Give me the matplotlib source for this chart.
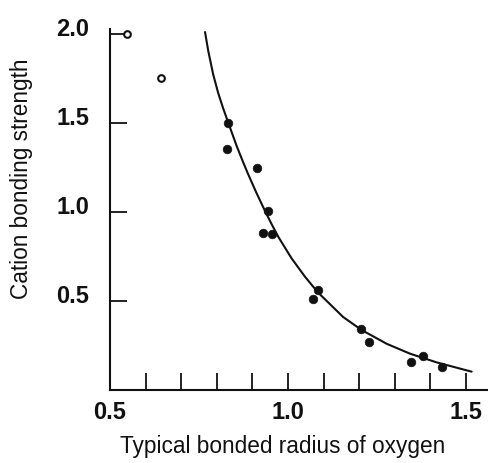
import matplotlib
matplotlib.use("Agg")
import matplotlib.pyplot as plt
from matplotlib.transforms import ScaledTranslation

plt.rcParams['font.family'] = ['Liberation Sans', 'DejaVu Sans']

# Data
open_x = [0.548, 0.643]
open_y = [2.00, 1.753]

filled_x = [0.831, 0.829, 0.913, 0.944, 0.930, 0.955, 1.084, 1.070, 1.205, 1.227, 1.346, 1.379, 1.433]
filled_y = [1.500, 1.355, 1.247, 1.006, 0.882, 0.876, 0.562, 0.511, 0.343, 0.270, 0.157, 0.191, 0.129]

curve_x = [0.767, 0.776, 0.790, 0.804, 0.818, 0.832, 0.856, 0.874, 0.888, 0.912, 0.935,
           0.954, 0.973, 1.010, 1.048, 1.071, 1.090, 1.155, 1.207, 1.277, 1.343, 1.418, 1.516]
curve_y = [2.011, 1.905, 1.772, 1.668, 1.582, 1.503, 1.370, 1.280, 1.213, 1.105, 1.008,
           0.932, 0.860, 0.740, 0.636, 0.580, 0.537, 0.410, 0.337, 0.260, 0.204, 0.155, 0.103]

xticks = [0.5, 0.6, 0.7, 0.8, 0.9, 1.0, 1.1, 1.2, 1.3, 1.4, 1.5]
xticklabels = ['0.5', '', '', '', '', '1.0', '', '', '', '', '1.5']
yticks = [0.5, 1.0, 1.5, 2.0]
yticklabels = ['0.5', '1.0', '1.5', '2.0']

W, H = 489, 463
fig = plt.figure(figsize=(W / 100, H / 100), dpi=100)
ax = fig.add_axes([110 / W, (H - 390) / H, (488 - 110) / W, (390 - 29) / H])

ink = '#111111'
ax.plot(curve_x, curve_y, color=ink, lw=1.5, solid_capstyle='round',
        solid_joinstyle='round', zorder=2)
ax.plot(filled_x, filled_y, 'o', color=ink, ms=6.3, mew=0.4, zorder=3)
ax.plot(open_x, open_y, 'o', mfc='white', mec=ink, ms=4.8, mew=1.5, zorder=3, clip_on=False)

ax.set_xlim(0.5, 1.562)
ax.set_ylim(0.0, 2.028)

for s in ['top', 'right']:
    ax.spines[s].set_visible(False)
for s in ['left', 'bottom']:
    ax.spines[s].set_linewidth(1.5)
    ax.spines[s].set_color(ink)

ax.set_xticks(xticks)
ax.set_xticklabels(xticklabels, fontsize=17, fontweight='bold', color=ink)
ax.set_yticks(yticks)
ax.set_yticklabels(yticklabels, fontsize=17, fontweight='bold', color=ink)
ax.tick_params(axis='both', direction='in', length=12, width=1.3, color=ink)
ax.tick_params(axis='x', pad=8)
ax.tick_params(axis='y', pad=15)

off = ScaledTranslation(0, 7 / 100, fig.dpi_scale_trans)
for lab in ax.get_yticklabels():
    lab.set_transform(lab.get_transform() + off)

fig.text(283 / W, 1 - 446 / H, 'Typical bonded radius of oxygen', fontsize=16.3,
         ha='center', va='center', color=ink)
fig.text(22 / W, 1 - 179 / H, 'Cation bonding strength', fontsize=16.3,
         ha='center', va='center', rotation=90, color=ink)

fig.savefig('out.png', dpi=100)
